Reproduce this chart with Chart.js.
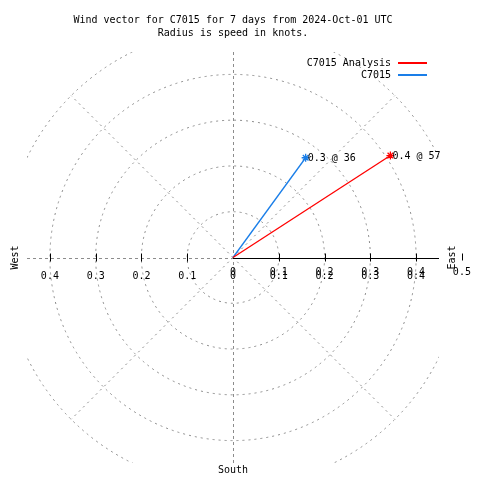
<!DOCTYPE html>
<html lang="en">
<head>
  <meta charset="UTF-8">
  <title>Wind vector for C7015</title>
  <style>
    body { margin: 0; background: #fff; }
    #wrap { width: 480px; height: 480px; }
  </style>
</head>
<body>
  <div id="wrap"><canvas id="chart" width="480" height="480"></canvas></div>

  <script src="https://cdn.jsdelivr.net/npm/chart.js"></script>
  <script>
    // chart data
    const titleLines = ['Wind vector for C7015 for 7 days from 2024-Oct-01 UTC', 'Radius is speed in knots.'];
    const seriesNames = ['C7015 Analysis', 'C7015'];
    const seriesColors = ['#ff0000', '#1a7ee8'];
    const speeds = [0.41, 0.27];       // knots
    const directions = [57, 36];       // degrees from north
    const xTicks = [-0.4, -0.3, -0.2, -0.1, 0, 0.1, 0.2, 0.3, 0.4];
    const rTicks = [0, 0.1, 0.2, 0.3, 0.4, 0.5];
    const gridRadii = [0.1, 0.2, 0.3, 0.4, 0.5];
    const spokeAngles = [45, 135, 225, 315];
    const compass = ['West', 'East', 'South'];

    const FONT = '10px "DejaVu Sans Mono", "Liberation Mono", monospace';
    const GRID = '#8c8c8c';

    // polar -> x/y for each vector (start at origin)
    const datasets = speeds.map((s, i) => {
      const rad = directions[i] * Math.PI / 180;
      return {
        label: seriesNames[i],
        data: [{ x: 0, y: 0 }, { x: s * Math.sin(rad), y: s * Math.cos(rad) }],
        showLine: true,
        borderColor: seriesColors[i],
        backgroundColor: seriesColors[i],
        borderWidth: 1.3,
        pointStyle: 'star',
        pointRadius: [0, 4],
        pointBorderWidth: 1.3,
        pointBorderColor: seriesColors[i]
      };
    });

    const crisp = v => Math.round(v) + 0.5;

    const polarGrid = {
      id: 'polarGrid',
      beforeDatasetsDraw(chart) {
        const { ctx, chartArea: a, scales: { x, y } } = chart;
        const cx = x.getPixelForValue(0), cy = y.getPixelForValue(0);
        const unit = x.getPixelForValue(1) - cx;

        ctx.save();
        ctx.beginPath();
        ctx.rect(a.left, a.top, a.width, a.height);
        ctx.clip();
        ctx.strokeStyle = GRID;
        ctx.lineWidth = 1;
        ctx.setLineDash([2, 4]);

        gridRadii.forEach(r => {
          ctx.beginPath();
          ctx.arc(cx, cy, r * unit, 0, Math.PI * 2);
          ctx.stroke();
        });

        const rMax = gridRadii[gridRadii.length - 1] * unit;
        spokeAngles.forEach(d => {
          const t = d * Math.PI / 180;
          ctx.beginPath();
          ctx.moveTo(cx, cy);
          ctx.lineTo(cx + rMax * Math.sin(t), cy - rMax * Math.cos(t));
          ctx.stroke();
        });

        ctx.setLineDash([3, 3]);
        ctx.beginPath();
        ctx.moveTo(crisp(cx), a.top);
        ctx.lineTo(crisp(cx), a.bottom);
        ctx.moveTo(a.left, crisp(cy));
        ctx.lineTo(cx, crisp(cy));
        ctx.stroke();
        ctx.restore();

        // solid radial axis to the east with tics
        ctx.save();
        ctx.strokeStyle = '#000';
        ctx.lineWidth = 1;
        ctx.beginPath();
        ctx.moveTo(cx, crisp(cy));
        ctx.lineTo(a.right, crisp(cy));
        xTicks.forEach(v => {
          if (v === 0) return;
          const px = crisp(x.getPixelForValue(v));
          ctx.moveTo(px, cy - 4);
          ctx.lineTo(px, cy + 4);
        });
        const p5 = crisp(x.getPixelForValue(rTicks[rTicks.length - 1]));
        ctx.moveTo(p5, cy - 4);
        ctx.lineTo(p5, cy + 3);
        ctx.stroke();
        ctx.restore();
      },
      afterDatasetsDraw(chart) {
        const { ctx, scales: { x, y } } = chart;
        const cx = x.getPixelForValue(0), cy = y.getPixelForValue(0);
        ctx.save();
        ctx.font = FONT;
        ctx.fillStyle = '#000';
        ctx.textBaseline = 'middle';

        // title
        ctx.textAlign = 'center';
        titleLines.forEach((t, i) => ctx.fillText(t, cx, 20 + i * 13));

        // x tick labels and r tick labels (overprinted like the original)
        xTicks.forEach(v => {
          ctx.fillText(Math.abs(v).toString(), x.getPixelForValue(v), cy + 19);
        });
        rTicks.forEach(v => {
          ctx.fillText(v.toString(), x.getPixelForValue(v), cy + 15);
        });

        // vector labels
        chart.data.datasets.forEach((ds, i) => {
          const pt = chart.getDatasetMeta(i).data[1];
          ctx.textAlign = 'left';
          ctx.fillText(speeds[i].toFixed(1) + ' @ ' + directions[i], pt.x + 2, pt.y + 1);
        });

        // legend
        seriesNames.forEach((n, i) => {
          const ly = 63 + i * 12;
          ctx.textAlign = 'right';
          ctx.fillStyle = '#000';
          ctx.fillText(n, 391, ly);
          ctx.fillStyle = seriesColors[i];
          ctx.fillRect(398, ly - 1, 29, 2);
        });

        // compass labels
        ctx.fillStyle = '#000';
        ctx.textAlign = 'center';
        ctx.fillText(compass[2], cx, 470);
        [[compass[0], 15], [compass[1], 452]].forEach(([t, px]) => {
          ctx.save();
          ctx.translate(px, cy);
          ctx.rotate(-Math.PI / 2);
          ctx.fillText(t, 0, 0);
          ctx.restore();
        });
        ctx.restore();
      }
    };

    new Chart(document.getElementById('chart'), {
      type: 'scatter',
      data: { datasets: datasets },
      options: {
        responsive: false,
        animation: false,
        layout: { padding: { left: 27, top: 52, right: 41, bottom: 17 } },
        plugins: { legend: { display: false }, tooltip: { enabled: false }, title: { display: false } },
        scales: {
          x: { type: 'linear', min: -0.45, max: 0.45, display: false },
          y: { type: 'linear', min: -0.45, max: 0.45, display: false }
        }
      },
      plugins: [polarGrid]
    });
  </script>
</body>
</html>
